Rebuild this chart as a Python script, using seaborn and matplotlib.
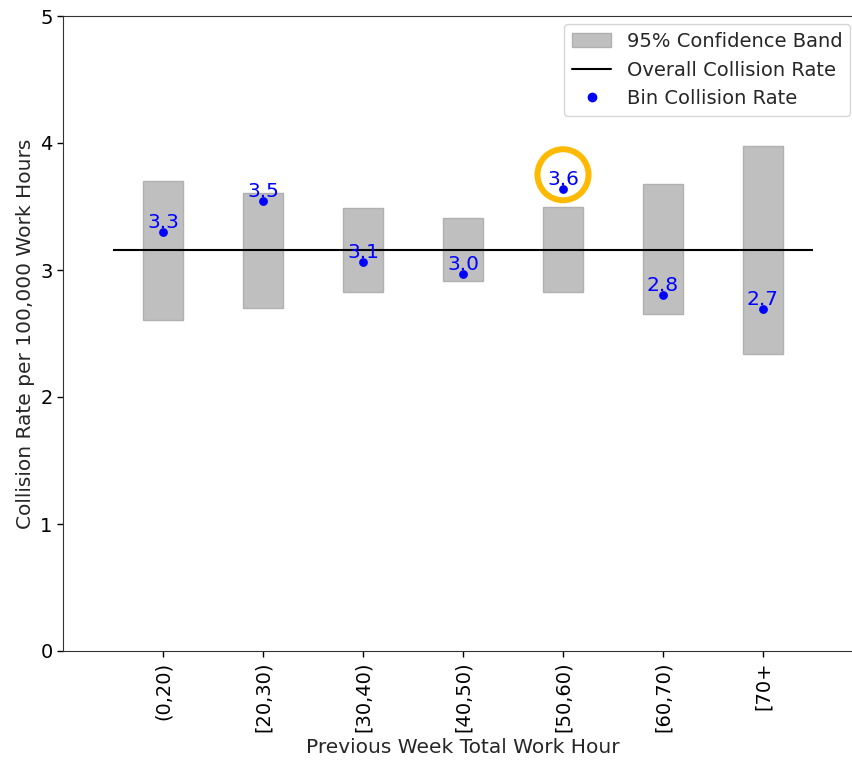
import matplotlib
matplotlib.use("Agg")
import matplotlib.pyplot as plt
import seaborn as sns
import pandas as pd
from matplotlib.patches import Patch
from matplotlib.lines import Line2D

bins = ["(0,20)", "[20,30)", "[30,40)", "[40,50)", "[50,60)", "[60,70)", "[70+"]
rates = [3.30, 3.54, 3.06, 2.97, 3.64, 2.80, 2.69]
ci_low = [2.61, 2.70, 2.83, 2.91, 2.83, 2.65, 2.34]
ci_high = [3.70, 3.61, 3.49, 3.41, 3.50, 3.68, 3.98]
overall_rate = 3.16
highlight = 4

df = pd.DataFrame({"bin": bins, "rate": rates, "low": ci_low, "high": ci_high})
df["span"] = df["high"] - df["low"]

sns.set_style("white")
plt.rcParams["font.family"] = ["DejaVu Sans"]

fig = plt.figure(figsize=(8.52, 7.6), dpi=100)
ax = fig.add_axes([63 / 852, 109 / 760, 800 / 852, 635 / 760])

sns.barplot(data=df, x="bin", y="span", bottom=df["low"], width=0.4,
            color="#bfbfbf", saturation=1, edgecolor="#b0b0b0", linewidth=1, ax=ax)
ax.hlines(overall_rate, -0.5, len(bins) - 0.5, color="black", linewidth=1.5)
sns.scatterplot(data=df, x="bin", y="rate", color="blue", s=40, linewidth=0, ax=ax, zorder=3)

for i, r in enumerate(rates):
    ax.text(i, r, f"{r:.1f}", ha="center", va="bottom", color="blue", fontsize=14.5, zorder=4)

# highlight circle
ax.scatter([highlight], [rates[highlight] + 0.11], s=1350, facecolors="none",
           edgecolors="#FFB900", linewidths=4.3, zorder=5)

ax.set_xlim(-1, 7)
ax.set_ylim(0, 5)
ax.set_yticks(range(0, 6))
ax.tick_params(axis="both", labelsize=14, length=4, width=1, colors="black", bottom=True, left=True)
plt.setp(ax.get_xticklabels(), rotation=90)
for s in ax.spines.values():
    s.set_color("#333333")
ax.spines["right"].set_visible(False)
ax.set_xlabel("Previous Week Total Work Hour", fontsize=14.5)
ax.set_ylabel("Collision Rate per 100,000 Work Hours", fontsize=14.5)

handles = [
    Patch(facecolor="#bfbfbf", edgecolor="#b0b0b0", label="95% Confidence Band"),
    Line2D([0], [0], color="black", lw=1.5, label="Overall Collision Rate"),
    Line2D([0], [0], marker="o", color="blue", lw=0, markersize=6, label="Bin Collision Rate"),
]
ax.legend(handles=handles, loc="upper right", fontsize=14, frameon=True,
          bbox_to_anchor=(850 / 852, 1 - 24 / 760), bbox_transform=fig.transFigure, borderaxespad=0)

fig.savefig("out.png", dpi=100)
